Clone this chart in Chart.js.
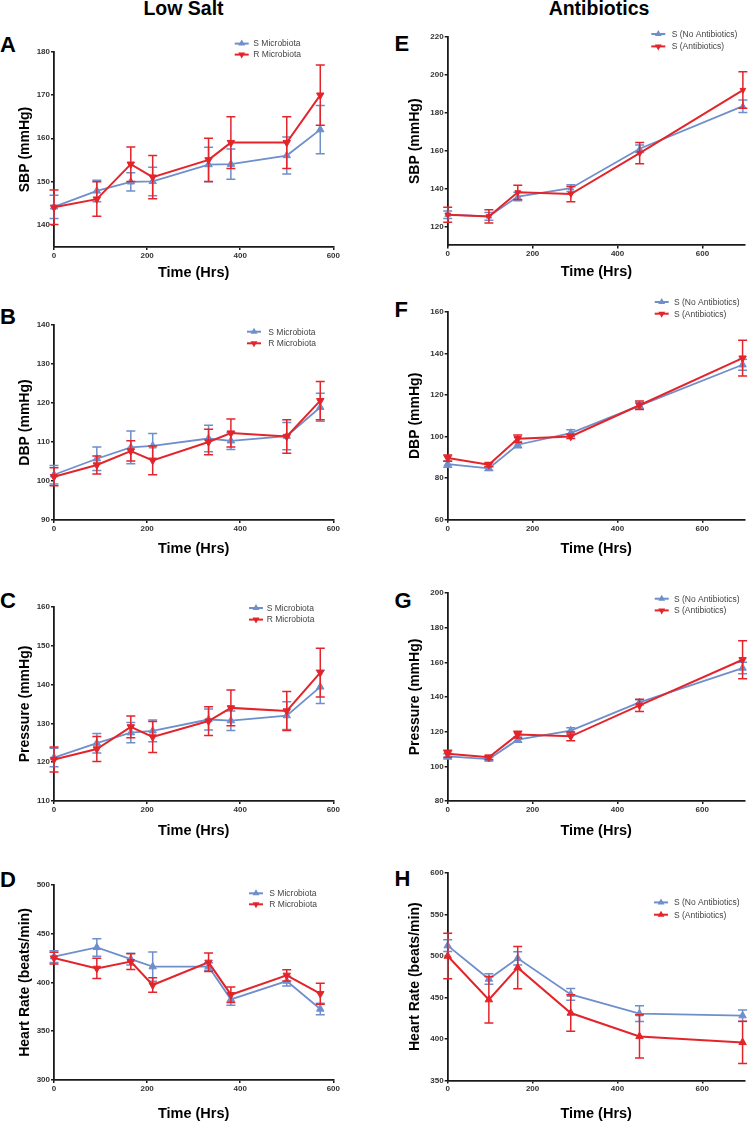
<!DOCTYPE html>
<html lang="en">
<head>
<meta charset="UTF-8">
<title>Low Salt / Antibiotics - blood pressure and heart rate</title>
<script src="https://cdn.jsdelivr.net/npm/chart.js"></script>
<style>
  html, body { margin: 0; padding: 0; background: #fff; }
  body { width: 750px; height: 1125px; position: relative; overflow: hidden;
         font-family: "Liberation Sans", Arial, sans-serif; }
  .colTitle { position: absolute; font-weight: bold; font-size: 19.5px; line-height: 19.5px;
              white-space: nowrap; transform: translateX(-50%); color: #000; }
  .letter { position: absolute; font-weight: bold; font-size: 22px; line-height: 22px; color: #000; }
  canvas.panel { position: absolute; }
</style>
</head>
<body>
<div class="colTitle" style="left:183.5px; top:-1.5px;">Low Salt</div>
<div class="colTitle" style="left:599px; top:-1.5px;">Antibiotics</div>

<script>
// ---- data ----
const lowSaltHours = [0, 92, 165, 212, 332, 380, 500, 572];
const abxHours = [0, 97, 165, 290, 452, 695];

const lowSaltLabels = ['S Microbiota', 'R Microbiota'];
const abxLabels = ['S (No Antibiotics)', 'S (Antibiotics)'];

// A: SBP, low salt
const sbpLowS    = [144.1, 147.8, 149.9, 150.0, 153.9, 154.0, 156.0, 162.0];
const sbpLowSErr = [2.7, 2.5, 2.1, 3.3, 4.0, 3.5, 4.3, 5.6];
const sbpLowR    = [144.0, 145.9, 154.0, 151.0, 155.0, 159.0, 159.0, 170.0];
const sbpLowRErr = [4.0, 4.0, 4.0, 5.0, 5.0, 6.0, 6.0, 7.0];

// B: DBP, low salt
const dbpLowS    = [101.6, 105.7, 108.6, 109.0, 110.9, 110.3, 111.5, 118.9];
const dbpLowSErr = [2.4, 3.0, 4.2, 3.2, 3.4, 2.2, 3.5, 3.6];
const dbpLowR    = [101.1, 104.1, 107.7, 105.3, 110.0, 112.3, 111.4, 120.6];
const dbpLowRErr = [2.3, 2.3, 2.6, 3.7, 3.3, 3.6, 4.3, 4.9];

// C: mean pressure, low salt
const mapLowS    = [121.2, 124.9, 127.6, 128.1, 131.0, 130.7, 132.0, 139.4];
const mapLowSErr = [2.4, 2.5, 2.6, 2.8, 2.7, 2.5, 3.6, 4.3];
const mapLowR    = [120.7, 123.4, 129.1, 126.5, 130.6, 134.0, 133.2, 143.1];
const mapLowRErr = [3.2, 3.2, 2.8, 4.0, 3.7, 4.6, 5.0, 6.3];

// D: heart rate, low salt
const hrLowS    = [426.5, 436.0, 424.0, 416.2, 416.2, 382.7, 401.5, 372.8];
const hrLowSErr = [6, 9, 6, 15, 4, 6, 5, 6];
const hrLowR    = [425.1, 414.5, 421.4, 397.4, 420.7, 387.5, 407.4, 388.5];
const hrLowRErr = [6, 10.5, 8, 7.5, 9.5, 8, 5.8, 10.8];

// E: SBP, antibiotics
const sbpAbxS    = [126.2, 125.3, 135.8, 140.2, 161.0, 183.5];
const sbpAbxSErr = [2, 2, 2.2, 1.8, 2, 3.3];
const sbpAbxR    = [126.2, 125.3, 138.0, 137.1, 158.7, 192.0];
const sbpAbxRErr = [4, 3.5, 3.8, 4, 5.6, 9.6];

// F: DBP, antibiotics
const dbpAbxS    = [86.8, 84.7, 96.1, 101.7, 114.9, 134.6];
const dbpAbxSErr = [1.5, 1, 1.5, 1.6, 1.5, 2.6];
const dbpAbxR    = [89.7, 86.5, 99.0, 100.1, 115.1, 137.8];
const dbpAbxRErr = [1.5, 1, 1.8, 1, 2, 8.6];

// G: mean pressure, antibiotics
const mapAbxS    = [105.8, 104.2, 115.4, 120.6, 136.9, 156.7];
const mapAbxSErr = [1.5, 1, 1.5, 1.6, 1.5, 3.3];
const mapAbxR    = [107.3, 105.2, 118.3, 117.3, 135.2, 161.5];
const mapAbxRErr = [2, 1.2, 2, 2.5, 3.5, 11];

// H: heart rate, antibiotics
const hrAbxS    = [512.4, 472.2, 497.1, 453.7, 430.4, 428.0];
const hrAbxSErr = [7, 6.4, 8, 7, 9.5, 7];
const hrAbxR    = [499.9, 447.3, 485.9, 431.2, 403.0, 395.8];
const hrAbxRErr = [27.5, 28, 25.4, 22, 26, 25.5];

// tick labels
const xTicksLowSalt = [0, 200, 400, 600];
const xTicksAbx = [0, 200, 400, 600];
const yTicksSbpLow = [140, 150, 160, 170, 180];
const yTicksDbpLow = [90, 100, 110, 120, 130, 140];
const yTicksMapLow = [110, 120, 130, 140, 150, 160];
const yTicksHrLow = [300, 350, 400, 450, 500];
const yTicksSbpAbx = [120, 140, 160, 180, 200, 220];
const yTicksDbpAbx = [60, 80, 100, 120, 140, 160];
const yTicksMapAbx = [80, 100, 120, 140, 160, 180, 200];
const yTicksHrAbx = [350, 400, 450, 500, 550, 600];

const BLUE = '#6e8fcb';
const RED = '#e3252b';
const FONT = '"Liberation Sans", Arial, sans-serif';

// ---- error bars, drawn right after each line so red sits on top ----
const errorBars = {
  id: 'errorBars',
  afterDatasetDraw(chart, args) {
    const ds = chart.data.datasets[args.index];
    if (!ds.errors) return;
    const ctx = chart.ctx;
    const yScale = chart.scales.y;
    ctx.save();
    ctx.strokeStyle = ds.borderColor;
    ctx.lineWidth = 1.5;
    args.meta.data.forEach((pt, i) => {
      const v = ds.data[i].y, e = ds.errors[i];
      const yTop = yScale.getPixelForValue(v + e);
      const yBot = yScale.getPixelForValue(v - e);
      ctx.beginPath();
      ctx.moveTo(pt.x, yTop); ctx.lineTo(pt.x, yBot);
      ctx.moveTo(pt.x - 4.5, yTop); ctx.lineTo(pt.x + 4.5, yTop);
      ctx.moveTo(pt.x - 4.5, yBot); ctx.lineTo(pt.x + 4.5, yBot);
      ctx.stroke();
    });
    ctx.restore();
  }
};

function triangle(ctx, x, y, r, rotDeg) {
  let rad = rotDeg * Math.PI / 180;
  ctx.beginPath();
  for (let k = 0; k < 3; k++) {
    const px = x + Math.sin(rad) * r, py = y - Math.cos(rad) * r;
    if (k === 0) ctx.moveTo(px, py); else ctx.lineTo(px, py);
    rad += 2 * Math.PI / 3;
  }
  ctx.closePath();
  ctx.fill();
}

// ---- small legend in the top right corner ----
const miniLegend = {
  id: 'miniLegend',
  afterDraw(chart, args, opts) {
    const ctx = chart.ctx;
    ctx.save();
    chart.data.datasets.slice().sort((a, b) => a.legendIndex - b.legendIndex).forEach((ds, i) => {
      const y = opts.y + i * opts.gap;
      ctx.strokeStyle = ds.borderColor;
      ctx.fillStyle = ds.borderColor;
      ctx.lineWidth = 2;
      ctx.beginPath();
      ctx.moveTo(opts.x - 7, y); ctx.lineTo(opts.x + 7, y);
      ctx.stroke();
      triangle(ctx, opts.x, y, 4, ds.pointRotation);
      ctx.fillStyle = '#444';
      ctx.font = '8.5px ' + FONT;
      ctx.textBaseline = 'middle';
      ctx.fillText(ds.label, opts.textX, y + 0.5);
    });
    ctx.restore();
  }
};

// ---- panel layout ----
const panels = [
  { letter: 'A', col: 0, plot: [54, 51.7, 333.3, 246.7], xTitleY: 272.5, letterBase: 52.7,
    hours: lowSaltHours, labels: lowSaltLabels, s: sbpLowS, sErr: sbpLowSErr, r: sbpLowR, rErr: sbpLowRErr,
    yMin: 134.8, yMax: 180, yTicks: yTicksSbpLow, xMax: 600, xTicks: xTicksLowSalt, yTitle: 'SBP (mmHg)',
    legend: [241.7, 43.3, 11, 253.3], rRot: 180, rad: 4.3 },
  { letter: 'B', col: 0, plot: [54, 325, 333.3, 520], xTitleY: 549, letterBase: 325,
    hours: lowSaltHours, labels: lowSaltLabels, s: dbpLowS, sErr: dbpLowSErr, r: dbpLowR, rErr: dbpLowRErr,
    yMin: 90, yMax: 140, yTicks: yTicksDbpLow, xMax: 600, xTicks: xTicksLowSalt, yTitle: 'DBP (mmHg)',
    legend: [254, 331.7, 11.6, 268.3], rRot: 180, rad: 4.3 },
  { letter: 'C', col: 0, plot: [54, 606.7, 333.3, 800.7], xTitleY: 831, letterBase: 609,
    hours: lowSaltHours, labels: lowSaltLabels, s: mapLowS, sErr: mapLowSErr, r: mapLowR, rErr: mapLowRErr,
    yMin: 110, yMax: 160, yTicks: yTicksMapLow, xMax: 600, xTicks: xTicksLowSalt, yTitle: 'Pressure (mmHg)',
    legend: [256, 607.7, 11.6, 266.7], rRot: 180, rad: 4.3 },
  { letter: 'D', col: 0, plot: [54, 885, 333.3, 1080], xTitleY: 1114, letterBase: 887.7,
    hours: lowSaltHours, labels: lowSaltLabels, s: hrLowS, sErr: hrLowSErr, r: hrLowR, rErr: hrLowRErr,
    yMin: 300, yMax: 500, yTicks: yTicksHrLow, xMax: 600, xTicks: xTicksLowSalt, yTitle: 'Heart Rate (beats/min)',
    legend: [256, 893.3, 11, 269.3], rRot: 180, rad: 4.3 },
  { letter: 'E', col: 375, plot: [447.7, 37.3, 746.7, 245.7], xTitleY: 272.5, letterBase: 52,
    hours: abxHours, labels: abxLabels, s: sbpAbxS, sErr: sbpAbxSErr, r: sbpAbxR, rErr: sbpAbxRErr,
    yMin: 110, yMax: 220, yTicks: yTicksSbpAbx, xMax: 700, xTicks: xTicksAbx, yTitle: 'SBP (mmHg)',
    legend: [658.3, 34.3, 12.4, 671.7], rRot: 180, rad: 3.3 },
  { letter: 'F', col: 375, plot: [447.7, 312.3, 746.7, 520], xTitleY: 549, letterBase: 317.7,
    hours: abxHours, labels: abxLabels, s: dbpAbxS, sErr: dbpAbxSErr, r: dbpAbxR, rErr: dbpAbxRErr,
    yMin: 60, yMax: 160, yTicks: yTicksDbpAbx, xMax: 700, xTicks: xTicksAbx, yTitle: 'DBP (mmHg)',
    legend: [661.7, 302.3, 11.7, 674], rRot: 180, rad: 4.3 },
  { letter: 'G', col: 375, plot: [447.7, 593.3, 746.7, 801.3], xTitleY: 831, letterBase: 608.3,
    hours: abxHours, labels: abxLabels, s: mapAbxS, sErr: mapAbxSErr, r: mapAbxR, rErr: mapAbxRErr,
    yMin: 80, yMax: 200, yTicks: yTicksMapAbx, xMax: 700, xTicks: xTicksAbx, yTitle: 'Pressure (mmHg)',
    legend: [661.7, 599, 11.7, 674], rRot: 180, rad: 4.3 },
  { letter: 'H', col: 375, plot: [447.7, 873.3, 746.7, 1080.7], xTitleY: 1114, letterBase: 886.7,
    hours: abxHours, labels: abxLabels, s: hrAbxS, sErr: hrAbxSErr, r: hrAbxR, rErr: hrAbxRErr,
    yMin: 350, yMax: 600, yTicks: yTicksHrAbx, xMax: 700, xTicks: xTicksAbx, yTitle: 'Heart Rate (beats/min)',
    legend: [661, 902.7, 12.3, 674], rRot: 0, rad: 4.3 }
];

const Y_TITLE_X = { 0: 25.5, 375: 415 };
const X_TITLE_SIZE = 14.5, Y_TITLE_SIZE = 14;

function addLetter(p) {
  const d = document.createElement('div');
  d.className = 'letter';
  d.textContent = p.letter;
  d.style.left = (p.col === 0 ? 0 : 394.5) + 'px';
  d.style.top = (p.letterBase - 0.8465 * 22) + 'px';
  document.body.appendChild(d);
}

function makePanel(p) {
  addLetter(p);
  const [pl, pt, pr, pb] = p.plot;
  const canvasTop = pt - 30;
  const canvasBottom = p.xTitleY + 11;
  const canvas = document.createElement('canvas');
  canvas.className = 'panel';
  canvas.width = 375;
  canvas.height = Math.round(canvasBottom - canvasTop);
  canvas.style.left = p.col + 'px';
  canvas.style.top = canvasTop + 'px';
  document.body.appendChild(canvas);

  const xLh = X_TITLE_SIZE * 1.2, yLh = Y_TITLE_SIZE * 1.2;
  const padLeft = Y_TITLE_X[p.col] - p.col - yLh / 2;
  const padBottom = canvas.height - (p.xTitleY - canvasTop + xLh / 2);
  const yWidth = pl - p.col - padLeft;
  const xHeight = p.xTitleY + xLh / 2 - pb;

  const tickFont = { family: FONT, size: 8, weight: 'bold' };
  const axisCommon = {
    border: { display: true, color: '#1a1a1a', width: 1.8 },
    grid: { drawOnChartArea: false, drawTicks: true, tickLength: 3, color: '#1a1a1a', lineWidth: 1.5 },
  };

  new Chart(canvas, {
    type: 'line',
    data: {
      datasets: [
        { label: p.labels[0], legendIndex: 0, order: 2,
          data: p.hours.map((h, i) => ({ x: h, y: p.s[i] })), errors: p.sErr,
          borderColor: BLUE, backgroundColor: BLUE, borderWidth: 1.8,
          pointStyle: 'triangle', pointRotation: 0, pointRadius: p.rad,
          pointBackgroundColor: BLUE, pointBorderColor: BLUE, pointBorderWidth: 1 },
        { label: p.labels[1], legendIndex: 1, order: 1,
          data: p.hours.map((h, i) => ({ x: h, y: p.r[i] })), errors: p.rErr,
          borderColor: RED, backgroundColor: RED, borderWidth: 2,
          pointStyle: 'triangle', pointRotation: p.rRot, pointRadius: p.rad,
          pointBackgroundColor: RED, pointBorderColor: RED, pointBorderWidth: 1 }
      ]
    },
    options: {
      responsive: false,
      animation: false,
      events: [],
      clip: false,
      layout: { padding: { left: padLeft, top: pt - canvasTop, right: p.col + 375 - pr, bottom: padBottom } },
      plugins: {
        legend: { display: false },
        tooltip: { enabled: false },
        miniLegend: { x: p.legend[0] - p.col, y: p.legend[1] - canvasTop, gap: p.legend[2], textX: p.legend[3] - p.col }
      },
      scales: {
        x: Object.assign({
          type: 'linear', min: 0, max: p.xMax,
          afterBuildTicks: s => { s.ticks = p.xTicks.map(v => ({ value: v })); },
          afterFit: s => { s.height = xHeight; },
          ticks: { font: tickFont, color: '#333', padding: 1, maxRotation: 0 },
          title: { display: true, text: 'Time (Hrs)', color: '#000', padding: 0,
                   font: { family: FONT, size: X_TITLE_SIZE, weight: 'bold', lineHeight: 1.2 } }
        }, axisCommon),
        y: Object.assign({
          type: 'linear', min: p.yMin, max: p.yMax,
          afterBuildTicks: s => { s.ticks = p.yTicks.map(v => ({ value: v })); },
          afterFit: s => { s.width = yWidth; },
          ticks: { font: tickFont, color: '#333', padding: 1 },
          title: { display: true, text: p.yTitle, color: '#000', padding: 0,
                   font: { family: FONT, size: Y_TITLE_SIZE, weight: 'bold', lineHeight: 1.2 } }
        }, axisCommon)
      }
    },
    plugins: [errorBars, miniLegend]
  });
}

panels.forEach(makePanel);
</script>
</body>
</html>
